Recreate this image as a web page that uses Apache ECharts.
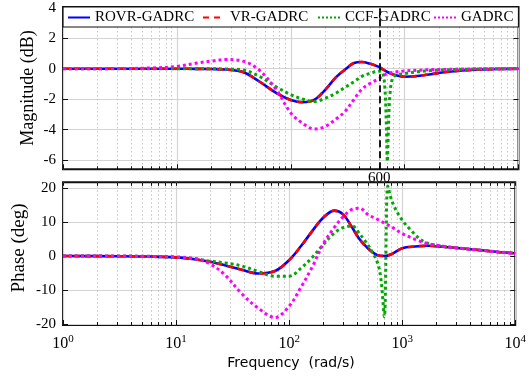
<!DOCTYPE html>
<html>
<head>
<meta charset="utf-8">
<script src="https://cdn.jsdelivr.net/npm/echarts@6/dist/echarts.min.js"></script>
<style>
  html, body { margin: 0; padding: 0; background: #fff; }
  #main { width: 529px; height: 379px; }
</style>
</head>
<body>
<div id="main"></div>
<script>
// frequency grid (rad/s) for ROVR / VR / GADRC curves
const freq = [1, 3, 6, 10, 15, 20, 27, 38, 53, 75, 100, 128, 160, 200, 250, 300, 360, 420, 500, 600, 700, 820, 1000, 1300, 1700, 2300, 3200, 5000, 7000, 10000];

// magnitude (dB)
const rovrMag = [0, 0, 0, 0, -0.01, -0.02, -0.05, -0.22, -0.84, -1.6, -2.05, -2.2, -2.05, -1.4, -0.55, -0.05, 0.38, 0.44, 0.32, 0.1, -0.2, -0.42, -0.53, -0.48, -0.36, -0.22, -0.12, -0.05, -0.02, 0];
const vrMag = rovrMag.slice();
const gadrcMag = [0, 0.01, 0.05, 0.15, 0.37, 0.5, 0.6, 0.5, -0.1, -1.4, -2.9, -3.6, -3.95, -3.8, -3.3, -2.8, -2.0, -1.35, -0.95, -0.64, -0.33, -0.22, -0.15, -0.1, -0.06, -0.04, -0.02, 0, 0, 0];

// phase (deg)
const rovrPhase = [0, -0.05, -0.15, -0.4, -1.0, -1.7, -2.7, -4.0, -5.1, -4.4, -1.2, 3.0, 7.3, 11.2, 13.3, 12.2, 8.4, 4.9, 2.2, 0.3, 0, 0.7, 2.3, 2.8, 3.0, 2.7, 2.3, 1.7, 1.2, 0.8];
const vrPhase = rovrPhase.slice();
const gadrcPhase = [0, 0, -0.1, -0.25, -0.8, -2.3, -5.5, -11, -15.2, -18, -14.7, -9, -3.2, 3.5, 8.3, 11.5, 13.7, 14.0, 12.1, 10.8, 9.6, 8.4, 6.6, 4.9, 3.6, 2.9, 2.3, 1.7, 1.2, 0.8];

// CCF-GADRC has a notch near 700 rad/s, so it gets its own frequency points
const ccfMagFreq = [1, 3, 6, 10, 15, 20, 27, 38, 53, 75, 100, 128, 160, 200, 250, 300, 360, 420, 500, 600, 640, 670, 690, 705, 720, 745, 790, 870, 1000, 1300, 1700, 2300, 3200, 5000, 7000, 10000];
const ccfMag = [0, 0, 0, 0, 0, 0, -0.02, -0.08, -0.5, -1.2, -1.7, -2.0, -2.15, -1.95, -1.6, -1.22, -0.85, -0.5, -0.3, -0.16, -0.25, -1.2, -3.5, -6.1, -4.0, -1.6, -0.55, -0.4, -0.32, -0.2, -0.12, -0.07, -0.04, -0.01, 0, 0];
const ccfPhaseFreq = [1, 3, 6, 10, 15, 20, 27, 38, 53, 75, 100, 128, 160, 200, 250, 300, 360, 420, 480, 530, 607, 650, 695, 745, 790, 851, 972, 1190, 1560, 2300, 3200, 5000, 7000, 10000];
const ccfPhase = [0, -0.05, -0.15, -0.4, -0.9, -1.5, -2.0, -2.9, -4.5, -5.9, -5.9, -3.5, -0.4, 3.3, 6.7, 8.3, 8.8, 6.5, 4.0, 1.8, -2.1, -7, -17.8, 20.5, 17.3, 14.5, 11.1, 7.6, 4.2, 2.8, 2.3, 1.7, 1.2, 0.8];

// ticks
const magTicks = [-6, -4, -2, 0, 2, 4];
const phaseTicks = [-20, -10, 0, 10, 20];
const minorTicks = [2, 3, 4, 5, 6, 7, 8, 9, 20, 30, 40, 50, 60, 70, 80, 90, 200, 300, 400, 500, 600, 700, 800, 900, 2000, 3000, 4000, 5000, 6000, 7000, 8000, 9000];
const allTicks = [1, 10, 100, 1000, 10000].concat(minorTicks);
const markFreq = 600;

const names = ['ROVR-GADRC', 'VR-GADRC', 'CCF-GADRC', 'GADRC'];
const serif = "'Liberation Serif', 'Times New Roman', serif";

const pairs = (xs, ys) => xs.map((x, i) => [x, ys[i]]);

const styles = [
  { color: '#0000ff', width: 2.6, type: 'solid' },
  { color: '#ff0000', width: 2.6, type: [6, 5] },
  { color: '#00a800', width: 3, type: 'dotted' },
  { color: '#ff00ff', width: 3, type: 'dotted' }
];

function makeSeries(name, idx, data, xi, yi) {
  const st = styles[idx];
  return {
    name: name, type: 'line', xAxisIndex: xi, yAxisIndex: yi,
    data: data, symbol: 'none', smooth: 0.35,
    lineStyle: { color: st.color, width: st.width, type: st.type },
    itemStyle: { color: st.color },
    z: 2 + idx * 0.1
  };
}

const gridBox = { show: true, borderColor: '#111', borderWidth: 2, backgroundColor: '#fff' };

function xMain(gi, labels) {
  return {
    type: 'log', gridIndex: gi, min: 1, max: 10000, logBase: 10, position: 'bottom',
    axisLine: { show: false, onZero: false },
    axisTick: { show: true, inside: true, length: 5, lineStyle: { color: '#111', width: 1 } },
    axisLabel: labels ? {
      margin: 9,
      formatter: v => '{b|10}{s|' + Math.round(Math.log10(v)) + '}',
      rich: {
        b: { fontFamily: serif, fontSize: 16, color: '#000', lineHeight: 20 },
        s: { fontFamily: serif, fontSize: 11, color: '#000', verticalAlign: 'top', lineHeight: 11 }
      }
    } : { show: false },
    splitLine: { show: true, lineStyle: { color: '#d4d4d4', width: 1.2 } }
  };
}
function xMinor(gi) {
  return {
    type: 'log', gridIndex: gi, min: 1, max: 10000, logBase: 10, position: 'bottom',
    axisLine: { show: false, onZero: false },
    axisTick: { show: true, inside: true, length: 3, customValues: minorTicks, lineStyle: { color: '#111' } },
    axisLabel: { show: false },
    splitLine: { show: true, lineStyle: { color: '#c4c4c4', width: 1, type: [1.5, 2.5] } }
  };
}
function xTop(gi) {
  return {
    type: 'log', gridIndex: gi, min: 1, max: 10000, logBase: 10, position: 'top',
    axisLine: { show: false, onZero: false },
    axisTick: { show: true, inside: true, length: 3.5, customValues: allTicks, lineStyle: { color: '#111' } },
    axisLabel: { show: false },
    splitLine: { show: false }
  };
}
function yAxisPair(gi, min, max, ticks) {
  return [{
    type: 'value', gridIndex: gi, min: min, max: max, position: 'left',
    axisLine: { show: false, onZero: false },
    axisTick: { show: true, inside: true, length: 5, customValues: ticks, lineStyle: { color: '#111' } },
    axisLabel: { customValues: ticks, margin: 7, fontFamily: serif, fontSize: 15, color: '#000' },
    splitLine: { show: true, lineStyle: { color: '#d4d4d4', width: 1.2 } }
  }, {
    type: 'value', gridIndex: gi, min: min, max: max, position: 'right',
    axisLine: { show: false, onZero: false },
    axisTick: { show: true, inside: true, length: 5, customValues: ticks, lineStyle: { color: '#111' } },
    axisLabel: { show: false },
    splitLine: { show: false }
  }];
}

const legendLefts = [67, 202, 317, 433];

const chart = echarts.init(document.getElementById('main'));
chart.setOption({
  animation: false,
  backgroundColor: '#fff',
  grid: [
    Object.assign({ left: 63, right: 10.5, top: 7, height: 162.3 }, gridBox),
    Object.assign({ left: 63, right: 10.5, top: 182.3, height: 142.7 }, gridBox)
  ],
  xAxis: [xMain(0, false), xMinor(0), xTop(0), xMain(1, true), xMinor(1), xTop(1)],
  yAxis: yAxisPair(0, -6.6, 4.05, magTicks).concat(yAxisPair(1, -20.2, 21.6, phaseTicks)),
  legend: names.map((n, i) => ({
    data: [n], left: legendLefts[i], top: 10, padding: 0, selectedMode: false,
    itemWidth: 22, itemHeight: 12, z: 5,
    itemStyle: { opacity: 0 },
    textStyle: { fontFamily: serif, fontSize: 15, color: '#000' }
  })),
  graphic: [
    { type: 'rect', z: 3, silent: true, shape: { x: 63, y: 7, width: 455.5, height: 20 },
      style: { fill: '#fff', stroke: '#111', lineWidth: 1.2 } },
    { type: 'text', z: 3, x: 28, y: 88, rotation: Math.PI / 2,
      style: { text: 'Magnitude (dB)', font: '18px ' + serif, fill: '#000', align: 'center', verticalAlign: 'middle' } },
    { type: 'text', z: 3, x: 19, y: 248, rotation: Math.PI / 2,
      style: { text: 'Phase (deg)', font: '19px ' + serif, fill: '#000', align: 'center', verticalAlign: 'middle' } },
    { type: 'text', z: 3, x: 291, y: 363,
      style: { text: 'Frequency  (rad/s)', font: "14px 'DejaVu Sans', sans-serif", fill: '#000', align: 'center', verticalAlign: 'middle' } }
  ],
  series: [
    Object.assign(makeSeries(names[0], 0, pairs(freq, rovrMag), 0, 0), {
      markLine: {
        silent: true, symbol: 'none',
        lineStyle: { color: '#000', width: 1.8, type: [7, 4] },
        label: { show: true, position: 'start', formatter: '600', distance: 1,
                 fontFamily: serif, fontSize: 15, color: '#000' },
        data: [{ xAxis: markFreq }]
      }
    }),
    makeSeries(names[1], 1, pairs(freq, vrMag), 0, 0),
    makeSeries(names[2], 2, pairs(ccfMagFreq, ccfMag), 0, 0),
    makeSeries(names[3], 3, pairs(freq, gadrcMag), 0, 0),
    makeSeries(names[0], 0, pairs(freq, rovrPhase), 3, 2),
    makeSeries(names[1], 1, pairs(freq, vrPhase), 3, 2),
    makeSeries(names[2], 2, pairs(ccfPhaseFreq, ccfPhase), 3, 2),
    makeSeries(names[3], 3, pairs(freq, gadrcPhase), 3, 2)
  ]
});
</script>
</body>
</html>
